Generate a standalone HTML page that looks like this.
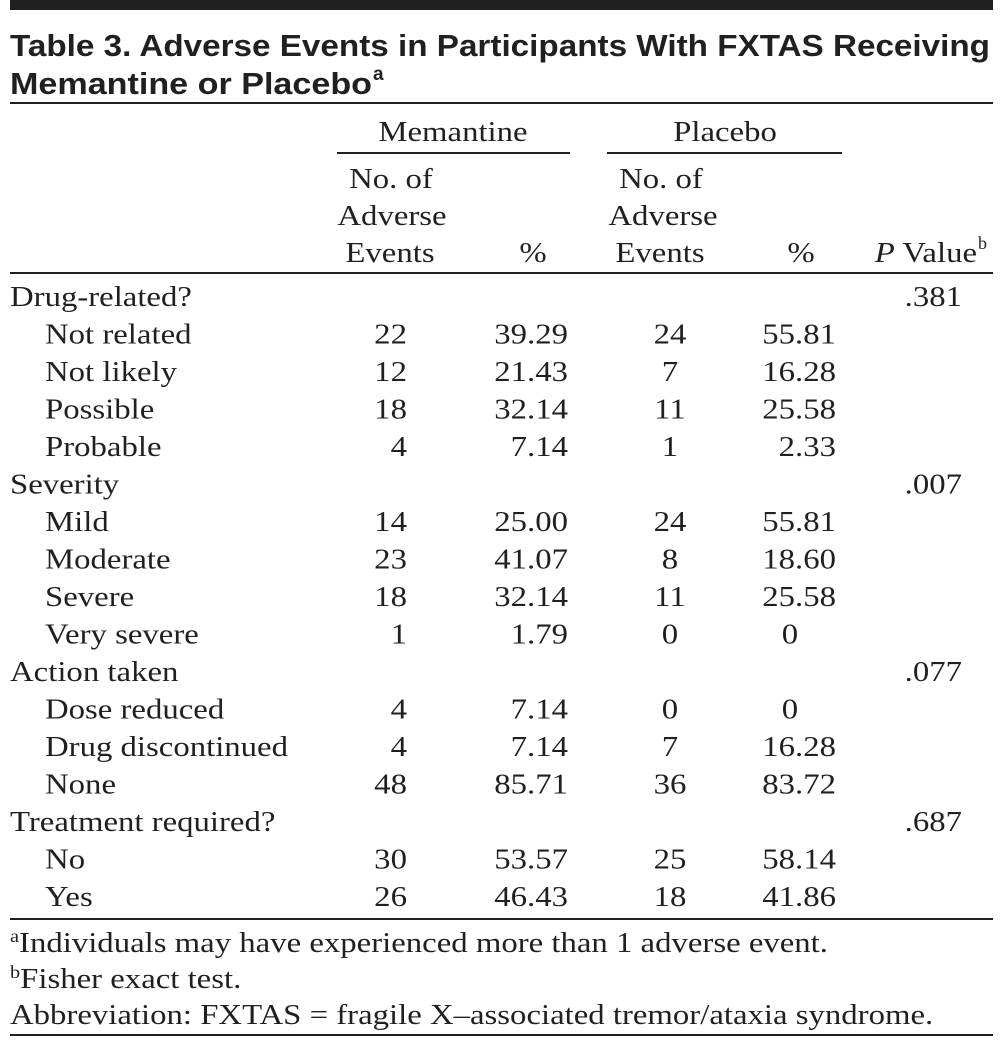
<!DOCTYPE html>
<html><head><meta charset="utf-8"><style>
html,body{margin:0;padding:0;background:#fff;}
svg{display:block}
.s{font-family:"Liberation Serif",serif;font-size:29px;fill:#231f20}
.t{font-family:"Liberation Sans",sans-serif;font-size:31px;font-weight:bold;fill:#231f20}
</style></head><body>
<svg id="tbl" width="1003" height="1048" viewBox="0 0 1003 1048">
<rect x="10" y="0" width="983" height="10" fill="#231f20"/>
<text class="t" x="10" y="56" textLength="980" lengthAdjust="spacingAndGlyphs">Table 3. Adverse Events in Participants With FXTAS Receiving</text>
<text class="t" x="10" y="94" textLength="362" lengthAdjust="spacingAndGlyphs">Memantine or Placebo</text>
<text class="t" x="373" y="80" style="font-size:19px">a</text>
<rect x="10" y="102" width="983" height="2" fill="#231f20"/>
<text class="s" x="453" y="141" text-anchor="middle">Memantine</text>
<rect x="337" y="152" width="233" height="2" fill="#231f20"/>
<text class="s" x="725" y="141" text-anchor="middle">Placebo</text>
<rect x="607" y="152" width="235" height="2" fill="#231f20"/>
<g>
<text class="s" x="391" y="188" text-anchor="middle">No. of</text>
<text class="s" x="392" y="225" text-anchor="middle">Adverse</text>
<text class="s" x="390" y="262" text-anchor="middle">Events</text></g>
<text class="s" x="533" y="262" text-anchor="middle">%</text>
<g>
<text class="s" x="661" y="188" text-anchor="middle">No. of</text>
<text class="s" x="663" y="225" text-anchor="middle">Adverse</text>
<text class="s" x="660" y="262" text-anchor="middle">Events</text></g>
<text class="s" x="801" y="262" text-anchor="middle">%</text>
<text class="s" x="977" y="262" text-anchor="end"><tspan font-style="italic">P</tspan> Value</text>
<text class="t2 s" x="978" y="249" style="font-size:18px">b</text>
<rect x="10" y="272" width="983" height="2" fill="#231f20"/>
<g id="rows"></g>
<rect x="10" y="918" width="983" height="2" fill="#231f20"/>
<text class="s" x="10" y="952"><tspan style="font-size:18px" dy="-10">a</tspan><tspan dy="10">Individuals may have experienced more than 1 adverse event.</tspan></text>
<text class="s" x="10" y="988"><tspan style="font-size:18px" dy="-10">b</tspan><tspan dy="10">Fisher exact test.</tspan></text>
<text class="s" x="10" y="1024">Abbreviation: FXTAS = fragile X–associated tremor/ataxia syndrome.</text>
<rect x="10" y="1034" width="983" height="2" fill="#231f20"/>
</svg>
<script>
const labels=["Drug-related?","Not related","Not likely","Possible","Probable","Severity","Mild","Moderate","Severe","Very severe","Action taken","Dose reduced","Drug discontinued","None","Treatment required?","No","Yes"];
const memCounts=["","22","12","18","4","","14","23","18","1","","4","4","48","","30","26"];
const memPct=["","39.29","21.43","32.14","7.14","","25.00","41.07","32.14","1.79","","7.14","7.14","85.71","","53.57","46.43"];
const plaCounts=["","24","7","11","1","","24","8","11","0","","0","7","36","","25","18"];
const plaPct=["","55.81","16.28","25.58","2.33","","55.81","18.60","25.58","0","","0","16.28","83.72","","58.14","41.86"];
const pValues=[".381","","","","",".007","","","","",".077","","","",".687","",""];
const ns="http://www.w3.org/2000/svg";
const g=document.getElementById('rows');
function rowY(i){return 306+i*37.5;}
function add(txt,x,y,anchor,name){
  if(!txt)return;
  const t=document.createElementNS(ns,'text');
  t.setAttribute('class','s');t.setAttribute('x',x);t.setAttribute('y',y);
  t.setAttribute('text-anchor',anchor);t.textContent=txt;
  
  
  g.appendChild(t);
}
labels.forEach((l,i)=>{
  const y=rowY(i);
  const sub=pValues[i]==="" ;
  add(l,sub?45:10,y,'start','row-label');
  add(memCounts[i],407,y,'end','memantine-count');
  add(memPct[i],568,y,'end','memantine-pct');
  add(plaCounts[i],670,y,'middle','placebo-count');
  if(plaPct[i]==="0") add(plaPct[i],790,y,'middle','placebo-pct');
  else add(plaPct[i],836,y,'end','placebo-pct');
  add(pValues[i],962,y,'end','p-value');
});
// widen serif text to match the reference typeface proportions
document.querySelectorAll('text.s').forEach(t=>{
  if(t.classList.contains('t2'))return;
  const w=t.getComputedTextLength();
  if(w>0){t.setAttribute('textLength',(w*1.13).toFixed(1));t.setAttribute('lengthAdjust','spacingAndGlyphs');}
});
</script>
</body></html>
